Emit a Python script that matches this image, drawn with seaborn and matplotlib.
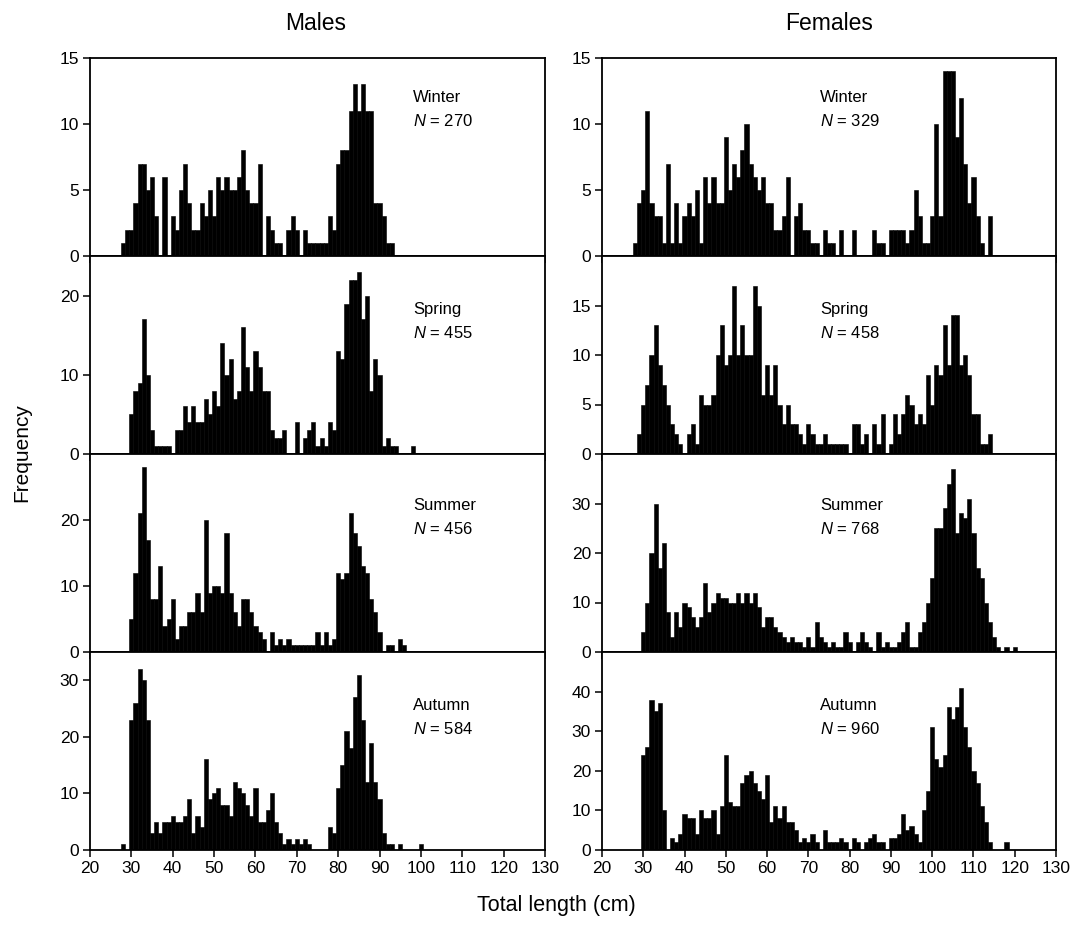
import numpy as np
import pandas as pd
import matplotlib
matplotlib.use("Agg")
import matplotlib.pyplot as plt
import seaborn as sns

# ---------------- data (counts per 1-cm length class) ----------------
SEASONS = ["Winter", "Spring", "Summer", "Autumn"]
MALE_N = [270, 455, 456, 584]
FEMALE_N = [329, 458, 768, 960]

M_WINTER_START = 28
M_WINTER = [1, 2, 2, 4, 7, 7, 5, 6, 3, 0,
            6, 0, 3, 2, 5, 7, 4, 2, 2, 4,
            3, 5, 3, 6, 5, 6, 5, 5, 6, 8,
            5, 4, 4, 7, 0, 3, 2, 1, 1, 0,
            2, 3, 2, 0, 2, 1, 1, 1, 1, 1,
            3, 2, 7, 8, 8, 11, 13, 11, 13, 11,
            11, 4, 4, 3, 1, 1]

M_SPRING_START = 30
M_SPRING = [5, 8, 9, 17, 10, 3, 1, 1, 1, 1,
            0, 3, 3, 6, 4, 6, 4, 4, 7, 5,
            8, 6, 14, 10, 12, 7, 8, 16, 11, 8,
            13, 11, 8, 8, 3, 2, 2, 3, 0, 0,
            4, 0, 2, 3, 4, 1, 2, 1, 4, 3,
            13, 12, 19, 22, 22, 23, 17, 20, 8, 12,
            10, 1, 2, 1, 1, 0, 0, 0, 1]

M_SUMMER_START = 30
M_SUMMER = [5, 12, 21, 28, 17, 8, 8, 13, 4, 5,
            8, 2, 4, 4, 6, 6, 9, 6, 20, 9,
            10, 10, 9, 18, 9, 6, 4, 8, 8, 6,
            4, 3, 2, 0, 3, 1, 2, 1, 2, 1,
            1, 1, 1, 1, 1, 3, 1, 3, 1, 2,
            12, 11, 12, 21, 18, 16, 13, 12, 8, 6,
            3, 0, 1, 1, 0, 2, 1]

M_AUTUMN_START = 28
M_AUTUMN = [1, 0, 23, 26, 32, 30, 23, 3, 5, 3,
            5, 5, 6, 5, 5, 6, 9, 3, 6, 4,
            16, 9, 10, 11, 8, 8, 6, 12, 11, 10,
            8, 6, 11, 5, 5, 7, 10, 5, 3, 1,
            2, 1, 2, 1, 2, 1, 0, 0, 0, 0,
            4, 3, 11, 15, 21, 18, 27, 31, 23, 12,
            19, 12, 9, 3, 1, 1, 0, 1, 0, 0,
            0, 0, 1]

F_WINTER_START = 28
F_WINTER = [1, 4, 5, 11, 4, 3, 3, 1, 7, 1,
            4, 1, 3, 4, 3, 5, 1, 6, 4, 6,
            4, 4, 9, 5, 7, 6, 8, 10, 7, 6,
            5, 6, 4, 4, 2, 2, 3, 6, 0, 3,
            4, 2, 2, 1, 1, 0, 2, 1, 1, 0,
            2, 0, 0, 2, 0, 0, 0, 0, 2, 1,
            1, 0, 2, 2, 2, 2, 1, 2, 5, 3,
            1, 1, 3, 10, 3, 14, 14, 14, 9, 12,
            7, 4, 6, 3, 1, 0, 3]

F_SPRING_START = 29
F_SPRING = [2, 5, 7, 10, 13, 9, 7, 5, 3, 2,
            1, 0, 2, 3, 1, 6, 5, 5, 6, 10,
            13, 9, 10, 17, 10, 13, 10, 10, 17, 15,
            6, 9, 6, 9, 5, 3, 5, 3, 3, 2,
            1, 3, 2, 1, 1, 2, 1, 1, 1, 1,
            1, 0, 3, 3, 1, 2, 0, 3, 1, 4,
            0, 1, 4, 2, 4, 6, 5, 3, 4, 3,
            8, 5, 9, 8, 13, 9, 14, 14, 9, 10,
            8, 4, 4, 1, 1, 2]

F_SUMMER_START = 30
F_SUMMER = [4, 10, 20, 30, 17, 22, 8, 3, 8, 5,
            10, 9, 7, 5, 7, 14, 8, 10, 12, 11,
            11, 10, 10, 12, 10, 12, 10, 12, 9, 5,
            7, 7, 5, 4, 3, 2, 3, 2, 2, 1,
            3, 1, 6, 3, 2, 1, 2, 1, 1, 4,
            2, 0, 2, 4, 2, 1, 0, 4, 1, 2,
            1, 1, 2, 4, 6, 1, 1, 4, 6, 10,
            15, 25, 25, 29, 34, 37, 24, 28, 27, 31,
            24, 17, 15, 10, 6, 3, 1, 0, 1, 0, 1]

F_AUTUMN_START = 30
F_AUTUMN = [24, 26, 38, 35, 37, 10, 0, 3, 2, 4,
            9, 8, 8, 4, 10, 8, 8, 10, 4, 11,
            24, 12, 11, 11, 17, 19, 20, 17, 15, 13,
            19, 7, 11, 8, 11, 7, 7, 5, 2, 3,
            2, 4, 2, 0, 5, 2, 2, 2, 3, 2,
            0, 3, 2, 0, 2, 3, 4, 2, 2, 0,
            3, 3, 4, 9, 5, 6, 4, 2, 10, 15,
            31, 23, 21, 24, 36, 33, 36, 41, 31, 26,
            20, 17, 11, 7, 2, 0, 0, 0, 2]

X_TICKS = list(range(20, 131, 10))
MALE_YMAX = [15, 25, 30, 35]
FEMALE_YMAX = [15, 20, 40, 50]
MALE_YTICKS = [[0, 5, 10, 15], [0, 10, 20], [0, 10, 20], [0, 10, 20, 30]]
FEMALE_YTICKS = [[0, 5, 10, 15], [0, 5, 10, 15], [0, 10, 20, 30], [0, 10, 20, 30, 40]]

male_series = [(M_WINTER_START, M_WINTER), (M_SPRING_START, M_SPRING),
               (M_SUMMER_START, M_SUMMER), (M_AUTUMN_START, M_AUTUMN)]
female_series = [(F_WINTER_START, F_WINTER), (F_SPRING_START, F_SPRING),
                 (F_SUMMER_START, F_SUMMER), (F_AUTUMN_START, F_AUTUMN)]

# ---------------- style ----------------
sns.set_theme(style="ticks")
plt.rcParams["font.family"] = ["Liberation Sans", "DejaVu Sans"]
plt.rcParams["mathtext.fontset"] = "custom"
plt.rcParams["mathtext.rm"] = "Liberation Sans"
plt.rcParams["mathtext.it"] = "Liberation Sans:italic"
plt.rcParams["text.color"] = "black"
plt.rcParams["axes.labelcolor"] = "black"
plt.rcParams["xtick.color"] = "black"
plt.rcParams["ytick.color"] = "black"

fig = plt.figure(figsize=(10.8, 9.33), dpi=100)
W, H = 1080.0, 933.0
col_left = [90 / W, 602 / W]
col_width = [455 / W, 454 / W]
top0 = 58.0
row_h = 198.0

text_x = [0.71, 0.48]
text_y = [(0.80, 0.68), (0.73, 0.61), (0.74, 0.62), (0.73, 0.61)]

for c, (series, ns, ymaxs, yticks) in enumerate(
        [(male_series, MALE_N, MALE_YMAX, MALE_YTICKS),
         (female_series, FEMALE_N, FEMALE_YMAX, FEMALE_YTICKS)]):
    for r in range(4):
        bottom = 1 - (top0 + (r + 1) * row_h) / H
        ax = fig.add_axes([col_left[c], bottom, col_width[c], row_h / H])
        start, counts = series[r]
        df = pd.DataFrame({"length": np.arange(start, start + len(counts)),
                           "count": counts})
        sns.histplot(data=df, x="length", weights="count", discrete=True,
                     shrink=1.0, color="black", alpha=1.0,
                     edgecolor="black", linewidth=0.4, ax=ax)
        ax.set_xlim(20, 130)
        ax.set_ylim(0, ymaxs[r])
        ax.set_xticks(X_TICKS)
        ax.set_yticks(yticks[r])
        ax.set_xlabel("")
        ax.set_ylabel("")
        for s in ax.spines.values():
            s.set_visible(True)
            s.set_linewidth(1.3)
            s.set_color("black")
        ax.tick_params(axis="both", direction="out", length=5, width=1.1,
                       labelsize=12.5, colors="black", pad=3)
        if r < 3:
            ax.tick_params(axis="x", labelbottom=False)
        ax.text(text_x[c], text_y[r][0], SEASONS[r], transform=ax.transAxes,
                fontsize=12, ha="left", va="center", color="black")
        ax.text(text_x[c], text_y[r][1], "$N$ = %d" % ns[r], transform=ax.transAxes,
                fontsize=12, ha="left", va="center", color="black")

fig.text(316 / W, 1 - 24 / H, "Males", fontsize=16.5, ha="center", va="center")
fig.text(829 / W, 1 - 24 / H, "Females", fontsize=16.5, ha="center", va="center")
fig.text(22 / W, 1 - 453 / H, "Frequency", fontsize=15, rotation=90,
         ha="center", va="center")
fig.text(556 / W, 1 - 905 / H, "Total length (cm)", fontsize=15.5,
         ha="center", va="center")

fig.savefig("out.png", dpi=100)
